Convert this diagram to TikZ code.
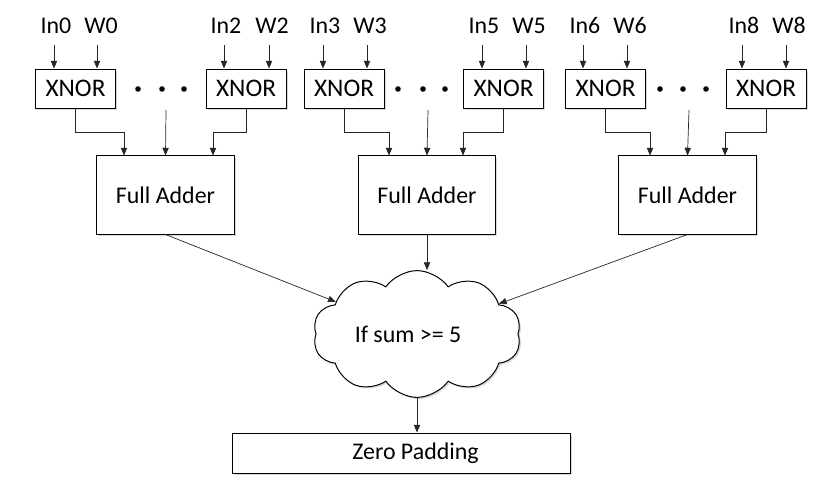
\documentclass[tikz,border=0pt]{standalone}
\usepackage{fontspec}
\setmainfont{Carlito}
\usetikzlibrary{arrows.meta,calc,shapes.symbols,shadows}

\tikzset{
  wire/.style={-{Triangle[length=5.5pt,width=4.5pt]}, line width=0.5pt, black!85},
  softshadow/.style={drop shadow={shadow xshift=1.2pt, shadow yshift=-1.2pt, opacity=0.3}},
  gate/.style={draw, line width=0.7pt, fill=white, softshadow, inner sep=0pt,
    minimum width=2cm, minimum height=0.975cm, font=\fontsize{18}{21}\selectfont},
  adder/.style={gate, minimum width=3.425cm, minimum height=1.95cm, font=\fontsize{17}{20}\selectfont},
  lbl/.style={inner sep=0pt, anchor=base, font=\fontsize{17}{20}\selectfont},
}

\begin{document}
\begin{tikzpicture}[x=0.025cm, y=-0.025cm]
\useasboundingbox (0,0) rectangle (834,486);

% xnor gates
\node[gate] (x0) at (75.5,88.5) {XNOR};
\node[gate] (x2) at (246,88.5) {XNOR};
\node[gate] (x3) at (344,88.5) {XNOR};
\node[gate] (x5) at (503.5,88.5) {XNOR};
\node[gate] (x6) at (605.5,88.5) {XNOR};
\node[gate] (x8) at (766,88.5) {XNOR};

% inputs and weights
\node[lbl] (in0) at (56,34) {In0};
\node[lbl] (w0) at (101,34) {W0};
\node[lbl] (in2) at (226,34) {In2};
\node[lbl] (w2) at (272,34) {W2};
\node[lbl] (in3) at (325,34) {In3};
\node[lbl] (w3) at (370,34) {W3};
\node[lbl] (in5) at (484,34) {In5};
\node[lbl] (w5) at (529,34) {W5};
\node[lbl] (in6) at (585,34) {In6};
\node[lbl] (w6) at (630,34) {W6};
\node[lbl] (in8) at (744,34) {In8};
\node[lbl] (w8) at (789,34) {W8};

\coordinate (i0) at (54,45);  \coordinate (v0) at (97,45);
\coordinate (i2) at (224,45); \coordinate (v2) at (269,45);
\coordinate (i3) at (323,45); \coordinate (v3) at (367,45);
\coordinate (i5) at (482,45); \coordinate (v5) at (526,45);
\coordinate (i6) at (583,45); \coordinate (v6) at (627,45);
\coordinate (i8) at (742,45); \coordinate (v8) at (786,45);

\draw[wire] (i0) -- (i0 |- x0.north);
\draw[wire] (v0) -- (v0 |- x0.north);
\draw[wire] (i2) -- (i2 |- x2.north);
\draw[wire] (v2) -- (v2 |- x2.north);
\draw[wire] (i3) -- (i3 |- x3.north);
\draw[wire] (v3) -- (v3 |- x3.north);
\draw[wire] (i5) -- (i5 |- x5.north);
\draw[wire] (v5) -- (v5 |- x5.north);
\draw[wire] (i6) -- (i6 |- x6.north);
\draw[wire] (v6) -- (v6 |- x6.north);
\draw[wire] (i8) -- (i8 |- x8.north);
\draw[wire] (v8) -- (v8 |- x8.north);

% dots
\fill (138,89) circle (2.8); \fill (162,89) circle (2.8); \fill (184,89) circle (2.8);
\fill (398,89) circle (2.8); \fill (423,89) circle (2.8); \fill (445,89) circle (2.8);
\fill (660,89) circle (2.8); \fill (683,89) circle (2.8); \fill (706,89) circle (2.8);

% full adders
\node[adder] (fa0) at (165.5,195) {Full Adder};
\node[adder] (fa1) at (427,195) {Full Adder};
\node[adder] (fa2) at (687.5,195) {Full Adder};

\draw[wire] (x0.south) -- ++(0,24) -| ($(fa0.north)+(-41.5,0)$);
\draw[wire] (x2.south) -- ++(0,24) -| ($(fa0.north)+(47.5,0)$);
\draw[wire] (x3.south) -- ++(0,24) -| ($(fa1.north)+(-38,0)$);
\draw[wire] (x5.south) -- ++(0,24) -| ($(fa1.north)+(36,0)$);
\draw[wire] (x6.south) -- ++(0,24) -| ($(fa2.north)+(-37.5,0)$);
\draw[wire] (x8.south) -- ++(0,24) -| ($(fa2.north)+(37.5,0)$);

\coordinate (m0) at (166,110);
\coordinate (m1) at (428,110);
\coordinate (m2) at (689,110);
\draw[wire] (m0) -- (fa0.north);
\draw[wire] (m1) -- (fa1.north);
\draw[wire] (m2) -- (fa2.north);

% threshold
\node[draw, cloud, cloud puffs=10, cloud puff arc=110, aspect=1.7, line width=0.7pt,
  fill=white, softshadow, inner sep=0pt, minimum width=5.2cm, minimum height=3.1cm,
  font=\fontsize{17}{20}\selectfont] (sum) at (417,334) {If sum >= 5\hspace*{0.45cm}};

\draw[wire] (fa0.south) -- (sum);
\draw[wire] (fa1.south) -- (fa1.south |- sum.north);
\draw[wire] (fa2.south) -- (sum);

\node[gate, minimum width=8.425cm, minimum height=1cm, font=\fontsize{17}{20}\selectfont]
  (zp) at (401.5,453) {\hspace*{0.7cm}Zero Padding};
\draw[wire] (sum.south) -- (zp.north -| sum.south);

\end{tikzpicture}
\end{document}
